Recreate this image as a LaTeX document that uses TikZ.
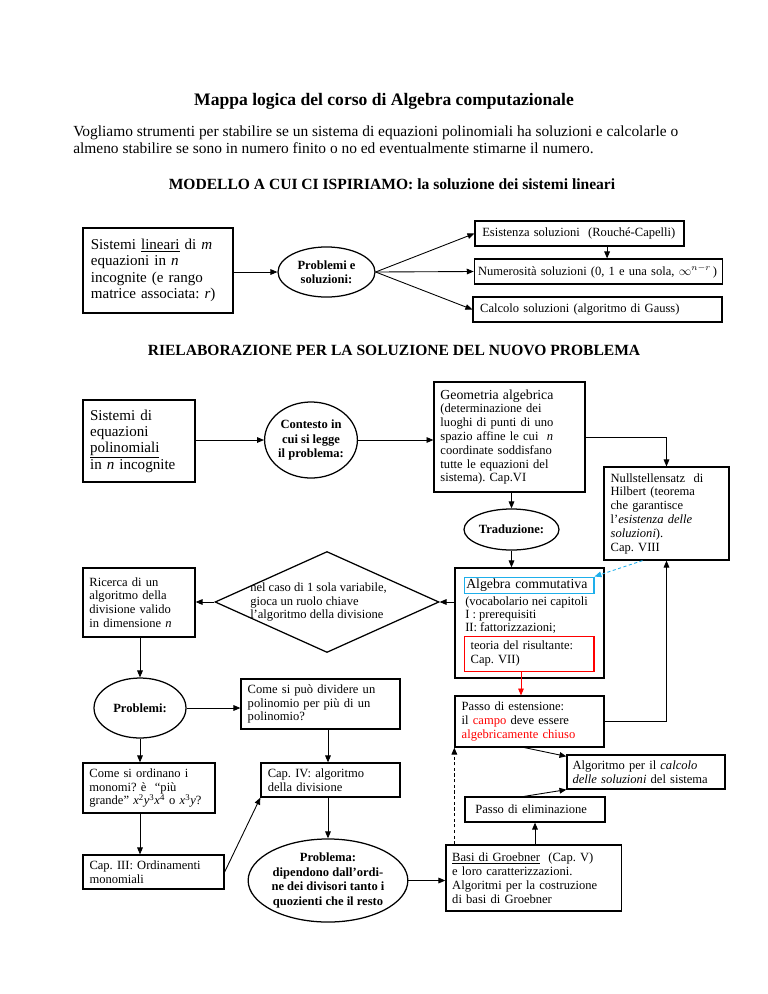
\documentclass[tikz,border=0pt]{standalone}
\usepackage{fontspec}
\setmainfont{Liberation Serif}
\usetikzlibrary{arrows.meta,shapes.geometric,positioning,calc}
\definecolor{algcyan}{RGB}{30,175,235}
\frenchspacing
\begin{document}
\begin{tikzpicture}[x=0.797pt, y=-0.797pt,
		box/.style={draw, line width=1pt, inner xsep=5pt, inner ysep=1pt, align=left, font=\fontsize{10}{11}\selectfont},
		bigbox/.style={box, font=\fontsize{12}{13}\selectfont},
		oval/.style={draw, ellipse, line width=1pt, inner sep=0pt, align=center, font=\bfseries\fontsize{10}{11.5}\selectfont},
		heading/.style={font=\bfseries\fontsize{12.4}{14}\selectfont},
		arr/.style={-{Triangle[length=5.5pt,width=4.5pt]}, line width=0.7pt},
		redarr/.style={arr, red},
		cyanarr/.style={arr, algcyan, dash pattern=on 2.5pt off 2pt},
		dasharr/.style={arr, dash pattern=on 2.5pt off 2pt}]
		\useasboundingbox (0,0) rectangle (768,994);
		% titolo e introduzione
		\node [font=\bfseries\fontsize{14}{16}\selectfont] (title) at (384,101) {Mappa logica del corso di Algebra computazionale};
		\node [anchor=west, align=left, inner sep=0pt, font=\fontsize{12.3}{13.8}\selectfont] (intro) at (73,140) {Vogliamo strumenti per stabilire se un sistema di equazioni polinomiali ha soluzioni e calcolarle o\\almeno stabilire se sono in numero finito o no ed eventualmente stimarne il numero.};
		\node [heading] (modello) at (392,184) {MODELLO A CUI CI ISPIRIAMO: la soluzione dei sistemi lineari};
		% sistemi lineari
		\node [bigbox, minimum width=119.6pt, minimum height=67.7pt, text width=107pt] (lin) at (158,270.5) {Sistemi \underline{lineari} di \textit{m}\\equazioni in \textit{n}\\incognite (e rango\\matrice associata: \textit{r})};
		\node [oval, minimum width=77.3pt, minimum height=39.9pt] (prob) at (326.5,272) {Problemi e\\soluzioni:};
		\node [box, minimum width=166.6pt, minimum height=19.9pt, text width=155pt] (esi) at (579.5,233.5) {Esistenza soluzioni~ (Rouché-Capelli)};
		\node [box, minimum width=198pt, minimum height=19.9pt, inner xsep=3pt, text width=192pt] (num) at (598.5,271.5) {Numerosità soluzioni (0, 1 e una sola, $\infty^{n-r}$\,)};
		\node [box, minimum width=198.5pt, minimum height=19.9pt, text width=187pt] (cal) at (597.5,309.5) {Calcolo soluzioni (algoritmo di Gauss)};
		% sistemi polinomiali
		\node [heading] (riel) at (394,350) {RIELABORAZIONE PER LA SOLUZIONE DEL NUOVO PROBLEMA};
		\node [bigbox, minimum width=89.3pt, minimum height=65.4pt, text width=78pt] (sis) at (139,441) {Sistemi di\\equazioni\\\underline{polinomiali}\\in \textit{n} incognite};
		\node [oval, minimum width=63.8pt, minimum height=60.6pt] (cont) at (311,440) {Contesto in\\cui si legge\\il problema:};
		\node [box, minimum width=120.3pt, minimum height=87.7pt, text width=110pt] (geo) at (509.5,437) {{\fontsize{11}{12}\selectfont Geometria algebrica}\\(determinazione dei\\luoghi di punti di uno\\spazio affine le cui~ \textit{n}\\coordinate soddisfano\\tutte le equazioni del\\sistema). Cap.VI};
		\node [box, minimum width=99.6pt, minimum height=74.1pt, text width=89pt] (null) at (666.5,513.5) {Nullstellensatz~ di\\Hilbert (teorema\\che garantisce\\l'\textit{esistenza delle}\\\textit{soluzioni}).\\Cap. VIII};
		\node [oval, minimum width=75.7pt, minimum height=32.7pt] (trad) at (511.5,529.5) {Traduzione:};
		% algebra commutativa
		\node [draw, line width=1pt, minimum width=118.8pt, minimum height=87.7pt] (alg) at (529.5,623) {};
		\node [draw=algcyan, line width=0.8pt, minimum width=103.6pt, minimum height=13.5pt, inner xsep=1.5pt, inner ysep=0pt, text width=100pt, align=left, font=\fontsize{11}{12}\selectfont] (algtit) at (529,585.5) {Algebra commutativa};
		\node [anchor=west, inner sep=0pt, align=left, font=\fontsize{10}{10.6}\selectfont] (algtxt) at (465,615) {(vocabolario nei capitoli\\I : prerequisiti\\II: fattorizzazioni;};
		\node [draw=red, line width=0.8pt, minimum width=103.6pt, minimum height=27.9pt, inner xsep=5pt, inner ysep=0pt, text width=93pt, align=left, font=\fontsize{10}{11}\selectfont] (algres) at (529,653.5) {teoria del risultante:\\Cap. VII)};
		\node [draw, diamond, line width=1pt, inner sep=0pt, minimum width=178.5pt, minimum height=80.5pt] (dia) at (327,602) {};
		\node [anchor=west, inner sep=0pt, align=left, font=\fontsize{10}{11}\selectfont] (diatxt) at (250,602) {nel caso di 1 sola variabile,\\gioca un ruolo chiave\\l'algoritmo della divisione};
		\node [box, minimum width=89.3pt, minimum height=55pt, text width=79pt] (ric) at (139,602.5) {Ricerca di un\\algoritmo della\\divisione valido\\in dimensione \textit{n}};
		% divisione e ordinamenti
		\node [oval, minimum width=73.3pt, minimum height=47.8pt] (probl) at (140,708) {Problemi:};
		\node [box, minimum width=126.7pt, minimum height=39.9pt, text width=116pt] (cpd) at (320.5,704) {Come si può dividere un\\polinomio per più di un\\polinomio?};
		\node [box, minimum width=105.2pt, minimum height=39.9pt, text width=95pt] (cord) at (149,788) {Come si ordinano i\\monomi? è ~``più\\grande'' \textit{x}\textsuperscript{2}\textit{y}\textsuperscript{3}\textit{x}\textsuperscript{4} o \textit{x}\textsuperscript{3}\textit{y}?};
		\node [box, minimum width=110.8pt, minimum height=27.1pt, text width=100pt] (cap4) at (330.5,780) {Cap. IV: algoritmo\\della divisione};
		\node [box, minimum width=112.4pt, minimum height=27.1pt, text width=102pt] (cap3) at (153.5,872) {Cap. III: Ordinamenti\\monomiali};
		\node [oval, minimum width=122.7pt, minimum height=66.2pt] (prb) at (328,880.5) {Problema:\\dipendono dall'ordi-\\ne dei divisori tanto i\\quozienti che il resto};
		% Groebner e soluzioni
		\node [box, minimum width=140pt, minimum height=52.6pt, text width=130pt] (basi) at (533.8,878) {\underline{Basi di Groebner}~ (Cap. V)\\e loro caratterizzazioni.\\Algoritmi per la costruzione\\di basi di Groebner};
		\node [box, minimum width=118.8pt, minimum height=40.6pt, text width=108pt] (est) at (529.5,721.5) {Passo di estensione:\\il {\color{red}campo} deve essere\\{\color{red}algebricamente chiuso}};
		\node [box, minimum width=125.9pt, minimum height=27.1pt, inner xsep=4pt, text width=117pt] (algo) at (646,772) {Algoritmo per il \textit{calcolo}\\\textit{delle soluzioni} del sistema};
		\node [box, minimum width=111.6pt, minimum height=19.9pt, inner xsep=8pt, text width=95pt] (elim) at (535,809.5) {Passo di eliminazione};
		% connettori
		\draw [arr] (lin.east |- prob.west) -- (prob.west);
		\draw [arr] (prob.east) -- (esi.west);
		\draw [arr] (prob.east) -- (num.west);
		\draw [arr] (prob.east) -- (cal.west);
		\draw [arr] ($(esi.south)+(27.6,0)$) -- ($(esi.south |- num.north)+(27.6,0)$);
		\draw [arr] (sis.east |- cont.west) -- (cont.west);
		\draw [arr] (cont.east) -- (cont.east -| geo.west);
		\draw [arr] (geo.east) -| (null.north);
		\draw [arr] (trad.north |- geo.south) -- (trad.north);
		\draw [arr] (trad.south) -- (trad.south |- alg.north);
		\draw [arr] (alg.west |- dia.east) -- (dia.east);
		\draw [arr] (dia.west) -- (dia.west -| ric.east);
		\draw [arr] (ric.south -| probl.north) -- (probl.north);
		\draw [arr] (probl.east) -- (probl.east -| cpd.west);
		\draw [arr] (cpd.south -| prb.north) -- (cap4.north -| prb.north);
		\draw [arr] (probl.south) -- (probl.south |- cord.north);
		\draw [arr] (probl.south |- cord.south) -- (probl.south |- cap3.north);
		\draw [arr] (cap3.east) -- (cap4.south west);
		\draw [arr] (cap4.south -| prb.north) -- (prb.north);
		\draw [arr] (prb.east) -- (prb.east -| basi.west);
		\draw [dasharr] (basi.north -| est.south west) -- (est.south west);
		\draw [arr] (basi.north -| elim.south) -- (elim.south);
		\draw [arr] ($(elim.north)+(-11,0)$) -- (algo.south west);
		\draw [arr] ($(est.south)+(-5,0)$) -- ($(algo.north west)+(0,2)$);
		\draw [arr] (est.east) -| (null.south);
		\draw [redarr] ($(algres.south)+(-8,0)$) -- ($(algres.south |- est.north)+(-8,0)$);
		\draw [cyanarr] ($(null.south)+(-24,0)$) -- (algtit.north east);
	\end{tikzpicture}
\end{document}
